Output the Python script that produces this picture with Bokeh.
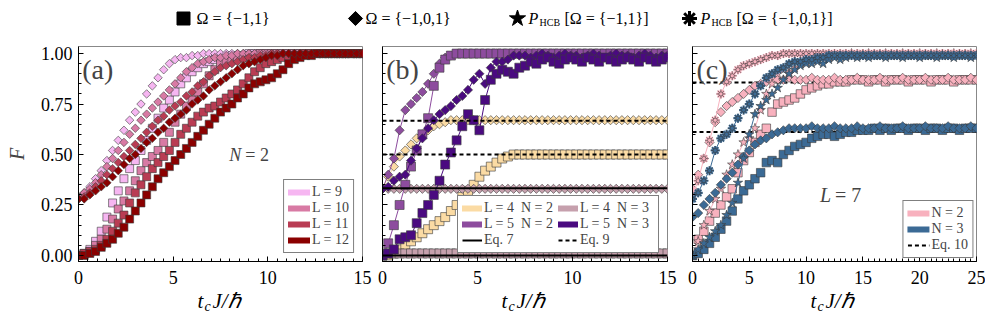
import math
from bokeh.plotting import figure
from bokeh.layouts import column, row
from bokeh.models import (Range1d, SingleIntervalTicker, NumeralTickFormatter,
                          CustomJSTickFormatter, Label, Legend, LegendItem, Span)
from bokeh.embed import file_html
from bokeh.resources import INLINE
from bokeh.core.properties import value

SERIF = "Liberation Serif"
NAN = float("nan")

# ---------------- data ----------------
T_AB = [0.0, 0.3, 0.6, 0.9, 1.2, 1.5, 1.8, 2.1, 2.4, 2.7,
        3.0, 3.3, 3.6, 3.9, 4.2, 4.5, 4.8, 5.1, 5.4, 5.7,
        6.0, 6.3, 6.6, 6.9, 7.2, 7.5, 7.8, 8.1, 8.4, 8.7,
        9.0, 9.3, 9.6, 9.9, 10.2, 10.5, 10.8, 11.1, 11.4, 11.7,
        12.0, 12.3, 12.6, 12.9, 13.2, 13.5, 13.8, 14.1, 14.4, 14.7, 15.0]
T_C = [0.0, 0.5, 1.0, 1.5, 2.0, 2.5, 3.0, 3.5, 4.0, 4.5,
       5.0, 5.5, 6.0, 6.5, 7.0, 7.5, 8.0, 8.5, 9.0, 9.5,
       10.0, 10.5, 11.0, 11.5, 12.0, 12.5, 13.0, 13.5, 14.0, 14.5,
       15.0, 15.5, 16.0, 16.5, 17.0, 17.5, 18.0, 18.5, 19.0, 19.5,
       20.0, 20.5, 21.0, 21.5, 22.0, 22.5, 23.0, 23.5, 24.0, 24.5, 25.0]

# panel (a): N = 2, Omega={-1,1} (squares) and Omega={-1,0,1} (diamonds)
A_LABELS = ["L = 9", "L = 10", "L = 11", "L = 12"]
A_SQ_L9 = [0.00,0.01,0.03,0.07,0.12,0.19,0.26,0.32,0.38,0.43,
           0.47,0.52,0.57,0.63,0.68,0.73,0.77,0.81,0.85,0.88,
           0.91,0.93,0.95,0.96,0.97,0.98,0.98,0.99,0.99,0.99,
           1.00,1.00,1.00,1.00,1.00,1.00,1.00,1.00,1.00,1.00,
           1.00,1.00,1.00,1.00,1.00,1.00,1.00,1.00,1.00,1.00,1.00]
A_SQ_L10 = [0.00,0.01,0.02,0.05,0.08,0.13,0.18,0.23,0.27,0.32,
            0.37,0.42,0.46,0.49,0.52,0.56,0.61,0.66,0.70,0.74,
            0.77,0.81,0.85,0.89,0.92,0.95,0.96,0.97,0.98,0.98,
            0.99,0.99,1.00,1.00,1.00,1.00,1.00,1.00,1.00,1.00,
            1.00,1.00,1.00,1.00,1.00,1.00,1.00,1.00,1.00,1.00,1.00]
A_SQ_L11 = [0.00,0.01,0.02,0.03,0.05,0.08,0.12,0.16,0.20,0.26,
            0.31,0.35,0.39,0.43,0.46,0.49,0.52,0.56,0.60,0.63,
            0.66,0.69,0.71,0.73,0.74,0.76,0.78,0.80,0.82,0.85,
            0.88,0.91,0.93,0.95,0.96,0.97,0.98,0.98,0.99,0.99,
            1.00,1.00,1.00,1.00,1.00,1.00,1.00,1.00,1.00,1.00,1.00]
A_SQ_L12 = [0.00,0.00,0.01,0.02,0.04,0.06,0.08,0.11,0.14,0.18,
            0.22,0.26,0.30,0.34,0.38,0.41,0.44,0.47,0.50,0.53,
            0.56,0.59,0.62,0.65,0.68,0.71,0.73,0.75,0.78,0.80,
            0.83,0.85,0.86,0.87,0.88,0.90,0.92,0.95,0.97,0.98,
            0.99,0.99,1.00,1.00,1.00,1.00,1.00,1.00,1.00,1.00,1.00]
A_DI_L9 = [0.29,0.31,0.34,0.38,0.42,0.47,0.52,0.57,0.62,0.67,
           0.71,0.75,0.80,0.84,0.88,0.92,0.95,0.97,0.98,0.98,
           0.99,0.99,1.00,1.00,1.00,1.00,1.00,1.00,1.00,1.00,
           1.00,1.00,1.00,1.00,1.00,1.00,1.00,1.00,1.00,1.00,
           1.00,1.00,1.00,1.00,1.00,1.00,1.00,1.00,1.00,1.00,1.00]
A_DI_L10 = [0.29,0.31,0.33,0.36,0.40,0.44,0.48,0.52,0.56,0.60,
            0.63,0.67,0.70,0.73,0.76,0.79,0.82,0.85,0.88,0.91,
            0.93,0.95,0.96,0.97,0.98,0.98,0.99,0.99,1.00,1.00,
            1.00,1.00,1.00,1.00,1.00,1.00,1.00,1.00,1.00,1.00,
            1.00,1.00,1.00,1.00,1.00,1.00,1.00,1.00,1.00,1.00,1.00]
A_DI_L11 = [0.28,0.29,0.31,0.34,0.37,0.40,0.43,0.46,0.49,0.52,
            0.55,0.58,0.61,0.64,0.67,0.69,0.72,0.74,0.76,0.79,
            0.81,0.84,0.86,0.89,0.91,0.93,0.94,0.95,0.96,0.97,
            0.98,0.98,0.99,0.99,1.00,1.00,1.00,1.00,1.00,1.00,
            1.00,1.00,1.00,1.00,1.00,1.00,1.00,1.00,1.00,1.00,1.00]
A_DI_L12 = [0.28,0.28,0.30,0.32,0.34,0.36,0.39,0.42,0.45,0.48,
            0.50,0.53,0.56,0.58,0.61,0.63,0.66,0.68,0.70,0.72,
            0.75,0.77,0.79,0.82,0.84,0.86,0.88,0.90,0.92,0.94,
            0.95,0.96,0.97,0.98,0.99,0.99,1.00,1.00,1.00,1.00,
            1.00,1.00,1.00,1.00,1.00,1.00,1.00,1.00,1.00,1.00,1.00]
A_COLORS = ["#f6b6f1", "#d87aa4", "#b93c53", "#8b0000"]

# panel (b)
B_LABELS = ["L = 4  N = 2", "L = 4  N = 3", "L = 5  N = 2", "L = 5  N = 3"]
B_SQ_L4N2 = [0.00,0.00,0.01,0.03,0.05,0.07,0.09,0.11,0.13,0.15,
             0.17,0.19,0.22,0.25,0.29,0.32,0.35,0.39,0.42,0.44,
             0.46,0.48,0.49,0.50,0.50,0.50,0.50,0.50,0.50,0.50,
             0.50,0.50,0.50,0.50,0.50,0.50,0.50,0.50,0.50,0.50,
             0.50,0.50,0.50,0.50,0.50,0.50,0.50,0.50,0.50,0.50,0.50]
B_DI_L4N2 = [0.33,0.39,0.44,0.49,0.52,0.55,0.58,0.60,0.62,0.64,
             0.65,0.66,0.67,0.67,0.67,0.67,0.67,0.67,0.67,0.67,
             0.67,0.67,0.67,0.67,0.67,0.67,0.67,0.67,0.67,0.67,
             0.67,0.67,0.67,0.67,0.67,0.67,0.67,0.67,0.67,0.67,
             0.67,0.67,0.67,0.67,0.67,0.67,0.67,0.67,0.67,0.67,0.67]
B_SQ_L4N3 = [0.01,0.01,0.01,0.01,0.01,0.01,0.01,0.01,0.01,0.01,
             0.01,0.01,0.01,0.01,0.01,0.01,0.01,0.01,0.01,0.01,
             0.01,0.01,0.01,0.01,0.01,0.01,0.01,0.01,0.01,0.01,
             0.01,0.01,0.01,0.01,0.01,0.01,0.01,0.01,0.01,0.01,
             0.01,0.01,0.01,0.01,0.01,0.01,0.01,0.01,0.01,0.01,0.01]
B_DI_L4N3 = [0.33,0.33,0.33,0.33,0.33,0.33,0.33,0.33,0.33,0.33,
             0.33,0.33,0.33,0.33,0.33,0.33,0.33,0.33,0.33,0.33,
             0.33,0.33,0.33,0.33,0.33,0.33,0.33,0.33,0.33,0.33,
             0.33,0.33,0.33,0.33,0.33,0.33,0.33,0.33,0.33,0.33,
             0.33,0.33,0.33,0.33,0.33,0.33,0.33,0.33,0.33,0.33,0.33]
B_SQ_L5N2 = [0.00,0.06,0.15,0.25,0.35,0.44,0.52,0.60,0.68,0.84,
             0.93,0.97,0.99,1.00,1.00,1.00,1.00,1.00,1.00,1.00,
             1.00,1.00,1.00,1.00,1.00,1.00,1.00,1.00,1.00,1.00,
             1.00,1.00,1.00,1.00,1.00,1.00,1.00,1.00,1.00,1.00,
             1.00,1.00,1.00,1.00,1.00,1.00,1.00,1.00,1.00,1.00,1.00]
B_DI_L5N2 = [0.33,0.40,0.48,0.62,0.72,0.75,0.78,0.81,0.85,0.90,
             0.95,0.98,0.99,1.00,1.00,1.00,1.00,1.00,1.00,1.00,
             1.00,1.00,1.00,1.00,1.00,1.00,1.00,1.00,1.00,1.00,
             1.00,1.00,1.00,1.00,1.00,1.00,1.00,1.00,1.00,1.00,
             1.00,1.00,1.00,1.00,1.00,1.00,1.00,1.00,1.00,1.00,1.00]
B_SQ_L5N3 = [0.00,0.01,0.03,0.08,0.09,0.10,0.16,0.21,0.25,0.30,
             0.37,0.45,0.51,0.57,0.64,0.70,0.67,0.62,0.77,0.87,
             0.90,0.92,0.91,0.90,0.93,0.94,0.96,0.95,0.97,0.98,
             0.96,0.95,0.97,0.98,0.97,0.96,0.98,0.97,0.96,0.98,
             0.97,0.96,0.97,0.98,0.97,0.96,0.98,0.97,0.96,0.97,0.98]
B_DI_L5N3 = [0.33,0.34,0.37,0.39,0.40,0.47,0.53,0.58,0.63,0.67,
             0.70,0.72,0.74,0.77,0.79,0.82,0.87,0.90,0.85,0.93,
             0.96,0.96,0.97,0.99,0.99,0.99,0.98,0.99,1.00,0.99,
             0.98,0.99,1.00,0.99,0.99,0.98,0.99,1.00,0.99,0.98,
             0.99,1.00,0.99,0.99,0.98,0.99,1.00,0.99,0.98,0.99,0.99]
B_COLORS = ["#fbdba4", "#c6a0ad", "#8d4c9e", "#4a0a80"]
EQ7 = [1/3, 0.0]
EQ9 = [2/3, 0.5]

# panel (c): L = 7
C_LABELS = ["N = 2", "N = 3"]
C_SQ_N2 = [0.00,0.08,0.12,0.17,0.21,0.25,0.29,0.33,0.41,0.47,
           0.51,0.56,0.60,0.63,0.71,0.75,0.76,0.77,0.78,0.80,
           0.82,0.83,0.84,0.85,0.85,0.86,0.86,0.86,0.87,0.87,
           0.87,0.86,0.87,0.87,0.86,0.87,0.87,0.87,0.86,0.87,
           0.87,0.87,0.86,0.87,0.87,0.87,0.86,0.87,0.87,0.87,0.87]
C_DI_N2 = [0.33,0.40,0.48,0.56,0.66,0.71,0.74,0.76,0.78,0.80,
           0.82,0.84,0.85,0.86,0.87,0.87,0.87,0.88,0.87,0.87,
           0.87,0.88,0.87,0.87,0.87,0.88,0.87,0.87,0.87,0.88,
           0.87,0.87,0.87,0.88,0.87,0.87,0.87,0.88,0.87,0.87,
           0.87,0.88,0.87,0.87,0.87,0.88,0.87,0.87,0.87,0.88,0.87]
C_ST_N2 = [0.00,0.07,0.15,0.22,0.28,0.33,0.40,0.45,0.50,0.56,
           0.58,0.63,0.72,0.80,0.85,0.90,0.92,0.91,0.93,0.95,
           0.96,0.97,0.97,0.98,0.98,0.99,0.99,0.99,1.00,0.99,
           0.99,1.00,0.99,0.99,1.00,0.99,0.99,1.00,0.99,0.99,
           1.00,0.99,0.99,1.00,0.99,0.99,1.00,0.99,0.99,1.00,0.99]
C_AS_N2 = [0.30,0.37,0.48,0.57,0.67,0.80,0.86,0.89,0.92,0.94,
           0.95,0.96,0.97,0.98,0.99,0.99,1.00,1.00,1.00,1.00,
           1.00,1.00,1.00,1.00,1.00,1.00,1.00,1.00,1.00,1.00,
           1.00,1.00,1.00,1.00,1.00,1.00,1.00,1.00,1.00,1.00,
           1.00,1.00,1.00,1.00,1.00,1.00,1.00,1.00,1.00,1.00,1.00]
C_SQ_N3 = [0.00,0.01,0.03,0.06,0.09,0.13,0.17,0.22,0.28,0.32,
           0.35,0.38,0.41,0.46,0.47,0.46,0.50,0.52,0.54,0.55,
           0.56,0.58,0.59,0.60,0.60,0.59,0.60,0.61,0.61,0.62,
           0.62,0.62,0.63,0.62,0.63,0.62,0.63,0.63,0.62,0.63,
           0.63,0.62,0.63,0.63,0.62,0.63,0.63,0.62,0.63,0.63,0.63]
C_DI_N3 = [0.19,0.21,0.25,0.28,0.31,0.35,0.38,0.41,0.45,0.49,
           0.52,0.55,0.57,0.58,0.60,0.61,0.62,0.63,0.63,0.63,
           0.63,0.64,0.63,0.63,0.63,0.64,0.63,0.63,0.63,0.64,
           0.63,0.63,0.63,0.64,0.63,0.63,0.63,0.64,0.63,0.63,
           0.63,0.64,0.63,0.63,0.63,0.64,0.63,0.63,0.63,0.64,0.63]
C_ST_N3 = [0.00,0.03,0.06,0.09,0.12,0.15,0.20,0.26,0.36,0.48,
           0.60,0.70,0.74,0.77,0.80,0.83,0.87,0.90,0.92,0.94,
           0.95,0.95,0.96,0.95,0.97,0.98,0.97,0.98,0.99,0.98,
           0.99,0.98,0.99,0.99,0.98,0.99,0.99,0.98,0.99,0.99,
           0.98,0.99,0.99,0.98,0.99,0.99,0.98,0.99,0.99,0.98,0.99]
C_AS_N3 = [0.28,0.31,0.37,0.42,0.52,0.58,0.60,0.63,0.68,0.72,
           0.75,0.80,0.84,0.88,0.90,0.92,0.93,0.95,0.96,0.96,
           0.97,0.97,0.98,0.98,0.99,0.99,0.99,0.99,0.99,0.99,
           0.99,0.99,0.99,0.99,0.99,0.99,0.99,0.99,0.99,0.99,
           0.99,0.99,0.99,0.99,0.99,0.99,0.99,0.99,0.99,0.99,0.99]
C_COLORS = ["#f8b1be", "#3b6a95"]
EQ10 = [0.857, 0.612]

X_TITLE = ("t", "c", "J/ℏ")
EDGE = "#3a3a3a"
DIAMOND_ANGLE = math.pi / 4


# ---------------- helpers ----------------
def make_panel(xmax, width, left, right, ylabels):
    p = figure(width=width, height=244, x_range=Range1d(0, xmax),
               y_range=Range1d(-0.03, 1.035), output_backend="svg",
               toolbar_location=None, min_border_left=left,
               min_border_right=right, min_border_top=4, min_border_bottom=23)
    p.grid.visible = False
    p.outline_line_color = "#888888"
    p.xaxis.ticker = SingleIntervalTicker(interval=5, num_minor_ticks=10)
    p.yaxis.ticker = SingleIntervalTicker(interval=0.25, num_minor_ticks=5)
    for ax in (p.xaxis[0], p.yaxis[0]):
        ax.major_tick_in = 5
        ax.major_tick_out = 0
        ax.minor_tick_in = 3
        ax.minor_tick_out = 0
        ax.axis_line_color = "black"
        ax.major_tick_line_color = "black"
        ax.minor_tick_line_color = "black"
        ax.major_label_text_font = SERIF
        ax.major_label_text_font_size = "18px"
        ax.major_label_text_color = "black"
    p.xaxis.major_label_standoff = 9
    if ylabels:
        p.yaxis.formatter = NumeralTickFormatter(format="0.00")
        p.yaxis.major_label_standoff = 6
        p.yaxis.axis_label = "F"
        p.yaxis.axis_label_text_font = SERIF
        p.yaxis.axis_label_text_font_style = "italic"
        p.yaxis.axis_label_text_font_size = "20px"
        p.yaxis.axis_label_standoff = 10
    else:
        p.yaxis.formatter = CustomJSTickFormatter(code="return ''")
        p.yaxis.major_label_standoff = 0
    return p


def squares(p, x, y, color, size, line=False):
    if line:
        p.line(x, y, line_color=color, line_width=1)
    p.scatter(x, y, marker="square", size=size, fill_color=color,
              line_color=EDGE, line_width=0.6)


def diamonds(p, x, y, color, size, line=False):
    if line:
        p.line(x, y, line_color=color, line_width=1)
    p.scatter(x, y, marker="square", angle=DIAMOND_ANGLE, size=size,
              fill_color=color, line_color=EDGE, line_width=0.6)


def stars(p, x, y, color, size, line=False):
    if line:
        p.line(x, y, line_color=color, line_width=1)
    p.scatter(x, y, marker="star", size=size, fill_color=color,
              line_color=EDGE, line_width=0.6)


def asterisks(p, x, y, color, size, line=False):
    if line:
        p.line(x, y, line_color=color, line_width=1)
    p.scatter(x, y, marker="asterisk", size=size, line_color=color, line_width=2.2)
    p.scatter(x, y, marker="asterisk", size=size, line_color=EDGE, line_width=0.6)
    p.scatter(x, y, marker="circle", size=size * 0.45, fill_color=color,
              line_color=EDGE, line_width=0.5)


def key_line(p, color, width, dash="solid"):
    # legend-only renderer (NaN data: nothing drawn in the plot)
    return p.line([NAN, NAN], [NAN, NAN], line_color=color, line_width=width,
                  line_cap="round" if dash == "solid" and width > 3 else "butt",
                  line_dash=dash)


def style_legend(leg, label_width=20, glyph_width=22):
    leg.label_text_font = SERIF
    leg.label_text_font_size = "14px"
    leg.label_height = 14
    leg.label_width = label_width
    leg.glyph_height = 14
    leg.glyph_width = glyph_width
    leg.label_standoff = 2
    leg.spacing = 0
    leg.padding = 4
    leg.border_line_color = "black"
    leg.border_line_width = 1
    leg.background_fill_alpha = 1.0


# ---------------- panel (a) ----------------
pa = make_panel(15, 372, 78, 10, True)
A_SQ = [A_SQ_L9, A_SQ_L10, A_SQ_L11, A_SQ_L12]
A_DI = [A_DI_L9, A_DI_L10, A_DI_L11, A_DI_L12]
for sq, di, col in zip(A_SQ, A_DI, A_COLORS):
    squares(pa, T_AB, sq, col, 8)
    diamonds(pa, T_AB, di, col, 6)
items = []
for lab, col in zip(A_LABELS, A_COLORS):
    items.append(LegendItem(label=lab, renderers=[key_line(pa, col, 6)]))
leg = Legend(items=items, location="bottom_right", margin=8)
style_legend(leg)
pa.add_layout(leg)
pa.add_layout(Label(x=0.2, y=0.92, text="(a)", text_font=SERIF, text_font_size="28px",
                    text_baseline="middle"))
pa.add_layout(Label(x=8.6, y=0.5, text="N", text_font=SERIF, text_font_style="italic",
                    text_font_size="18px", text_baseline="middle", text_align="right"))
pa.add_layout(Label(x=8.6, y=0.5, x_offset=4, text="= 2", text_font=SERIF,
                    text_font_size="18px", text_baseline="middle"))

# ---------------- panel (b) ----------------
pb = make_panel(15, 305, 10, 10, False)
B_SQ = [B_SQ_L4N2, B_SQ_L4N3, B_SQ_L5N2, B_SQ_L5N3]
B_DI = [B_DI_L4N2, B_DI_L4N3, B_DI_L5N2, B_DI_L5N3]
for sq, di, col in zip(B_SQ, B_DI, B_COLORS):
    diamonds(pb, T_AB, di, col, 6.5, line=True)
    squares(pb, T_AB, sq, col, 9, line=True)
for v in EQ7:
    pb.add_layout(Span(location=v, dimension="width", line_color="black", line_width=2))
for v in EQ9:
    pb.add_layout(Span(location=v, dimension="width", line_color="black", line_width=2,
                       line_dash="4 3"))
rb = [key_line(pb, col, 6) for col in B_COLORS]
r7 = key_line(pb, "black", 2)
r9 = key_line(pb, "black", 2, "4 3")
# column-major order so that rows read (L4N2, L4N3), (L5N2, L5N3), (Eq7, Eq9)
items = [LegendItem(label=B_LABELS[0], renderers=[rb[0]]),
         LegendItem(label=B_LABELS[2], renderers=[rb[2]]),
         LegendItem(label="Eq. 7", renderers=[r7]),
         LegendItem(label=B_LABELS[1], renderers=[rb[1]]),
         LegendItem(label=B_LABELS[3], renderers=[rb[3]]),
         LegendItem(label="Eq. 9", renderers=[r9])]
leg = Legend(items=items, location="bottom_right", margin=8, ncols=2)
style_legend(leg, label_width=74, glyph_width=20)
pb.add_layout(leg)
pb.add_layout(Label(x=0.2, y=0.92, text="(b)", text_font=SERIF, text_font_size="28px",
                    text_baseline="middle"))

# ---------------- panel (c) ----------------
pc = make_panel(25, 308, 15, 9, False)
for v in EQ10:
    pc.add_layout(Span(location=v, dimension="width", line_color="black", line_width=2,
                       line_dash="4 3", level="underlay"))
C_SQ = [C_SQ_N2, C_SQ_N3]
C_DI = [C_DI_N2, C_DI_N3]
C_ST = [C_ST_N2, C_ST_N3]
C_AS = [C_AS_N2, C_AS_N3]
for sq, di, st, ast, col in zip(C_SQ, C_DI, C_ST, C_AS, C_COLORS):
    squares(pc, T_C, sq, col, 8.5)
    diamonds(pc, T_C, di, col, 6.5)
    stars(pc, T_C, st, col, 10, line=True)
    asterisks(pc, T_C, ast, col, 9, line=True)
rc = [key_line(pc, col, 6) for col in C_COLORS]
r10 = key_line(pc, "black", 2, "4 3")
items = [LegendItem(label=C_LABELS[0], renderers=[rc[0]]),
         LegendItem(label=C_LABELS[1], renderers=[rc[1]]),
         LegendItem(label="Eq. 10", renderers=[r10])]
leg = Legend(items=items, location="bottom_right", margin=3)
style_legend(leg)
pc.add_layout(leg)
pc.add_layout(Label(x=0.35, y=0.92, text="(c)", text_font=SERIF, text_font_size="28px",
                    text_baseline="middle"))
pc.add_layout(Label(x=12.2, y=0.30, text="L", text_font=SERIF, text_font_style="italic",
                    text_font_size="20px", text_baseline="middle", text_align="right"))
pc.add_layout(Label(x=12.2, y=0.30, x_offset=4, text="= 7", text_font=SERIF,
                    text_font_size="20px", text_baseline="middle"))

f = value(SERIF)

# ---------------- top legend ----------------
TOP_TEXT = ["Ω = {−1,1}", "Ω = {−1,0,1}", "[Ω = {−1,1}]", "[Ω = {−1,0,1}]"]
pt = figure(width=985, height=42, x_range=Range1d(0, 985), y_range=Range1d(0, 42),
            output_backend="svg", toolbar_location=None, min_border=0)
pt.axis.visible = False
pt.grid.visible = False
pt.outline_line_color = None
ym = 24
pt.scatter([183], [ym], marker="square", size=13, fill_color="black", line_color="black")
pt.scatter([355], [ym], marker="square", angle=DIAMOND_ANGLE, size=10, fill_color="black",
           line_color="black")
pt.scatter([517], [ym], marker="star", size=17, fill_color="black", line_color="black")
pt.scatter([689], [ym], marker="asterisk", size=15, line_color="black", line_width=3)
pt.text([196], [ym], text=[TOP_TEXT[0]], text_font=f, text_font_size="16px",
        text_baseline="middle")
pt.text([365], [ym], text=[TOP_TEXT[1]], text_font=f, text_font_size="16px",
        text_baseline="middle")
for xp, xs, xb, t in [(528, 539, 564, TOP_TEXT[2]), (700, 711, 736, TOP_TEXT[3])]:
    pt.text([xp], [ym], text=["P"], text_font=f, text_font_style="italic",
            text_font_size="16px", text_baseline="middle")
    pt.text([xs], [ym - 4], text=["HCB"], text_font=f, text_font_size="10px",
            text_baseline="middle")
    pt.text([xb], [ym], text=[t], text_font=f, text_font_size="16px",
            text_baseline="middle")

# ---------------- x-axis titles (t_c J / hbar) below each panel ----------------
PANEL_CENTERS = [221, 525, 834]
pbot = figure(width=985, height=29, x_range=Range1d(0, 985), y_range=Range1d(0, 29),
              output_backend="svg", toolbar_location=None, min_border=0)
pbot.axis.visible = False
pbot.grid.visible = False
pbot.outline_line_color = None
yb = 15
for xc in PANEL_CENTERS:
    pbot.text([xc - 24], [yb], text=[X_TITLE[0]], text_font=f, text_font_style="italic",
              text_font_size="21px", text_baseline="middle")
    pbot.text([xc - 17], [yb - 5.5], text=[X_TITLE[1]], text_font=f, text_font_style="italic",
              text_font_size="14px", text_baseline="middle")
    pbot.text([xc - 9], [yb], text=[X_TITLE[2]], text_font=f, text_font_style="italic",
              text_font_size="21px", text_baseline="middle")

layout = column(pt, row(pa, pb, pc), pbot)
open("out.html", "w").write(file_html(layout, INLINE))
